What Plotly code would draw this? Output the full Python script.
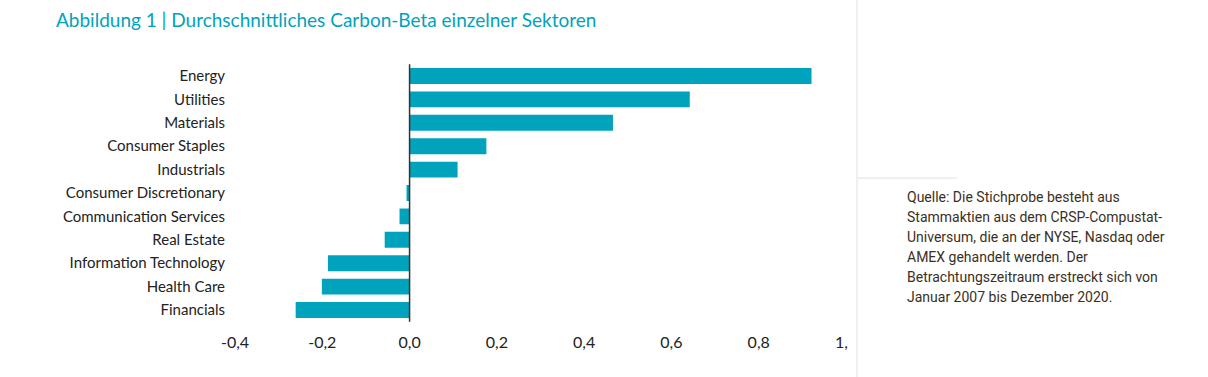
import plotly.graph_objects as go

categories = ["Energy", "Utilities", "Materials", "Consumer Staples", "Industrials",
              "Consumer Discretionary", "Communication Services", "Real Estate",
              "Information Technology", "Health Care", "Financials"]
values = [0.921, 0.642, 0.466, 0.176, 0.110, -0.007, -0.023, -0.057, -0.187, -0.201, -0.261]
tick_vals = [-0.4, -0.2, 0.0, 0.2, 0.4, 0.6, 0.8, 1.0]
tick_text = ["-0,4", "-0,2", "0,0", "0,2", "0,4", "0,6", "0,8",
             "1,<span style='color:rgba(0,0,0,0)'>0</span>"]
title_text = "Abbildung 1 | Durchschnittliches Carbon-Beta einzelner Sektoren"
source_lines = ["Quelle: Die Stichprobe besteht aus",
                "Stammaktien aus dem CRSP-Compustat-",
                "Universum, die an der NYSE, Nasdaq oder",
                "AMEX gehandelt werden. Der",
                "Betrachtungszeitraum erstreckt sich von",
                "Januar 2007 bis Dezember 2020."]

W, H = 1208, 377
TEAL = "#00a3bb"
FONT = "Lato, sans-serif"

fig = go.Figure(go.Bar(
    x=values, y=categories, orientation="h",
    marker=dict(color=TEAL, line=dict(width=0)),
    width=0.68,
))

fig.update_layout(
    width=W, height=H,
    margin=dict(l=0, r=0, t=0, b=0, pad=0),
    paper_bgcolor="white", plot_bgcolor="white",
    showlegend=False,
    xaxis=dict(domain=[235 / W, 846 / W], range=[-0.4, 1.0], automargin=False,
               tickvals=tick_vals, ticktext=tick_text,
               showgrid=False, zeroline=False, showline=False,
               ticks="outside", ticklen=6, tickcolor="rgba(0,0,0,0)",
               tickfont=dict(family=FONT, size=16, color="#222222")),
    yaxis=dict(domain=[(H - 321.7) / H, (H - 64.3) / H], automargin=False,
               categoryorder="array", categoryarray=categories[::-1],
               range=[-0.5, 10.5],
               showgrid=False, zeroline=False, showline=False,
               ticks="outside", ticklen=6, tickcolor="rgba(0,0,0,0)",
               tickfont=dict(family=FONT, size=15, color="#222222")),
)

# zero line
fig.add_shape(type="line", xref="x", yref="y domain", x0=0, x1=0, y0=0, y1=1,
              line=dict(color="#333333", width=1.5))
# separator lines
fig.add_shape(type="line", xref="paper", yref="paper", x0=857 / W, x1=857 / W, y0=0, y1=1,
              line=dict(color="#dde1e6", width=1))
fig.add_shape(type="line", xref="paper", yref="paper", x0=858 / W, x1=957 / W,
              y0=(H - 178) / H, y1=(H - 178) / H,
              line=dict(color="#dde1e6", width=1))

fig.add_annotation(text=title_text, xref="paper", yref="paper",
                   x=54 / W, y=(H - 20) / H, xanchor="left", yanchor="middle",
                   showarrow=False, font=dict(family=FONT, size=19, color=TEAL))

for i, line in enumerate(source_lines):
    fig.add_annotation(text=line, xref="paper", yref="paper",
                       x=905 / W, y=(H - (197 + 20 * i)) / H,
                       xanchor="left", yanchor="middle", showarrow=False,
                       font=dict(family="Roboto", size=14, color="#3b2f1e"))

fig.write_html("out.html", config={"displayModeBar": False},
               post_script="document.body.style.margin='0';document.body.style.overflow='hidden';")
